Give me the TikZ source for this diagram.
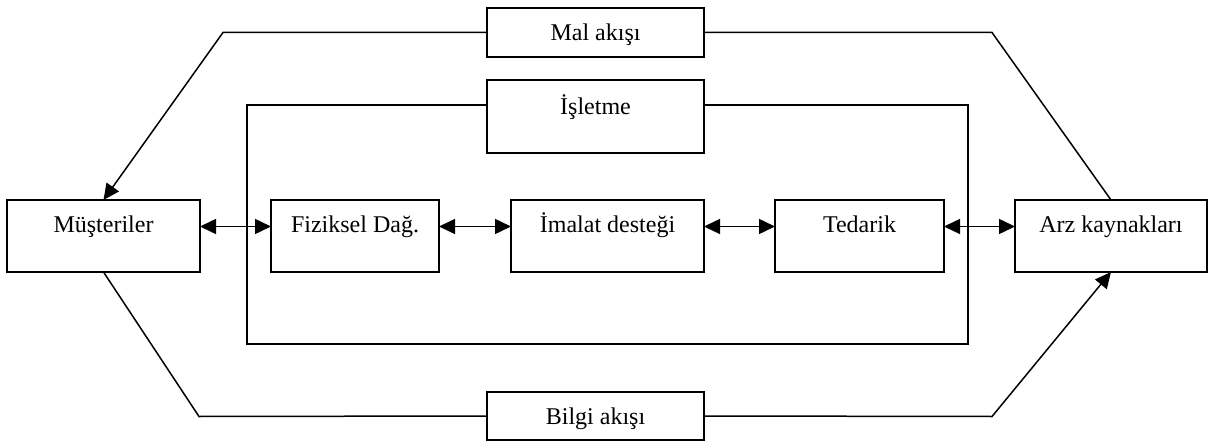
\documentclass[tikz,border=0pt]{standalone}
\usepackage{fontspec}
\setmainfont{Liberation Serif}
\usetikzlibrary{arrows.meta,calc}
\begin{document}
\begin{tikzpicture}[x=1pt,y=-1pt,
  box/.style={draw, line width=1.5pt, fill=white, anchor=north west, inner sep=0pt, outer sep=0pt},
  lbl/.style={anchor=base, font=\fontsize{24}{29}\selectfont, inner sep=0pt},
  flow/.style={line width=1.5pt},
  tip/.style={line width=1.5pt, -{Triangle[length=16pt,width=15pt]}},
  both/.style={line width=1.5pt, {Triangle[length=16pt,width=15pt]}-{Triangle[length=16pt,width=15pt]}}]
\useasboundingbox (0,0) rectangle (1208,441);

% frame of the firm and its title box
\node[box, fill=none, minimum width=721pt, minimum height=239pt] (firm) at (247,105) {};
\node[box, minimum width=217pt, minimum height=73pt] (firmtag) at (487,80) {};
\node[lbl] (firmtag-t) at (595.5,115) {İşletme};

% main chain
\node[box, minimum width=193pt, minimum height=72pt] (cust) at (7,200) {};
\node[lbl] (cust-t) at (103.5,233) {Müşteriler};
\node[box, minimum width=168pt, minimum height=72pt] (fiz) at (271,200) {};
\node[lbl] (fiz-t) at (355,233) {Fiziksel Dağ.};
\node[box, minimum width=193pt, minimum height=72pt] (imal) at (511,200) {};
\node[lbl] (imal-t) at (607.5,233) {İmalat desteği};
\node[box, minimum width=169pt, minimum height=72pt] (ted) at (775,200) {};
\node[lbl] (ted-t) at (859.5,233) {Tedarik};
\node[box, minimum width=192pt, minimum height=72pt] (arz) at (1015,200) {};
\node[lbl] (arz-t) at (1111,233) {Arz kaynakları};

% flow labels
\node[box, minimum width=217pt, minimum height=49pt] (mal) at (487,8) {};
\node[lbl] (mal-t) at (595.5,40.5) {Mal akışı};
\node[box, minimum width=217pt, minimum height=48pt] (bilgi) at (487,392) {};
\node[lbl] (bilgi-t) at (595.5,424.5) {Bilgi akışı};

% bends of the outer flows
\coordinate (c1) at (223,32.5);
\coordinate (c2) at (992,32.5);
\coordinate (c3) at (199,416.5);
\coordinate (c4) at (992,416.5);

% two-way links along the chain
\draw[both] ([yshift=9.5pt]cust.east) -- ([yshift=9.5pt]fiz.west);
\draw[both] ([yshift=9.5pt]fiz.east) -- ([yshift=9.5pt]imal.west);
\draw[both] ([yshift=9.5pt]imal.east) -- ([yshift=9.5pt]ted.west);
\draw[both] ([yshift=9.5pt]ted.east) -- ([yshift=9.5pt]arz.west);

% goods flow (top) and information flow (bottom)
\draw[tip] (mal.west) -- (c1) -- (cust.north);
\draw[flow] (mal.east) -- (c2) -- (arz.north);
\draw[flow] (bilgi.west) -- (c3) -- (cust.south);
\draw[tip] (bilgi.east) -- (c4) -- (arz.south);
\end{tikzpicture}
\end{document}
